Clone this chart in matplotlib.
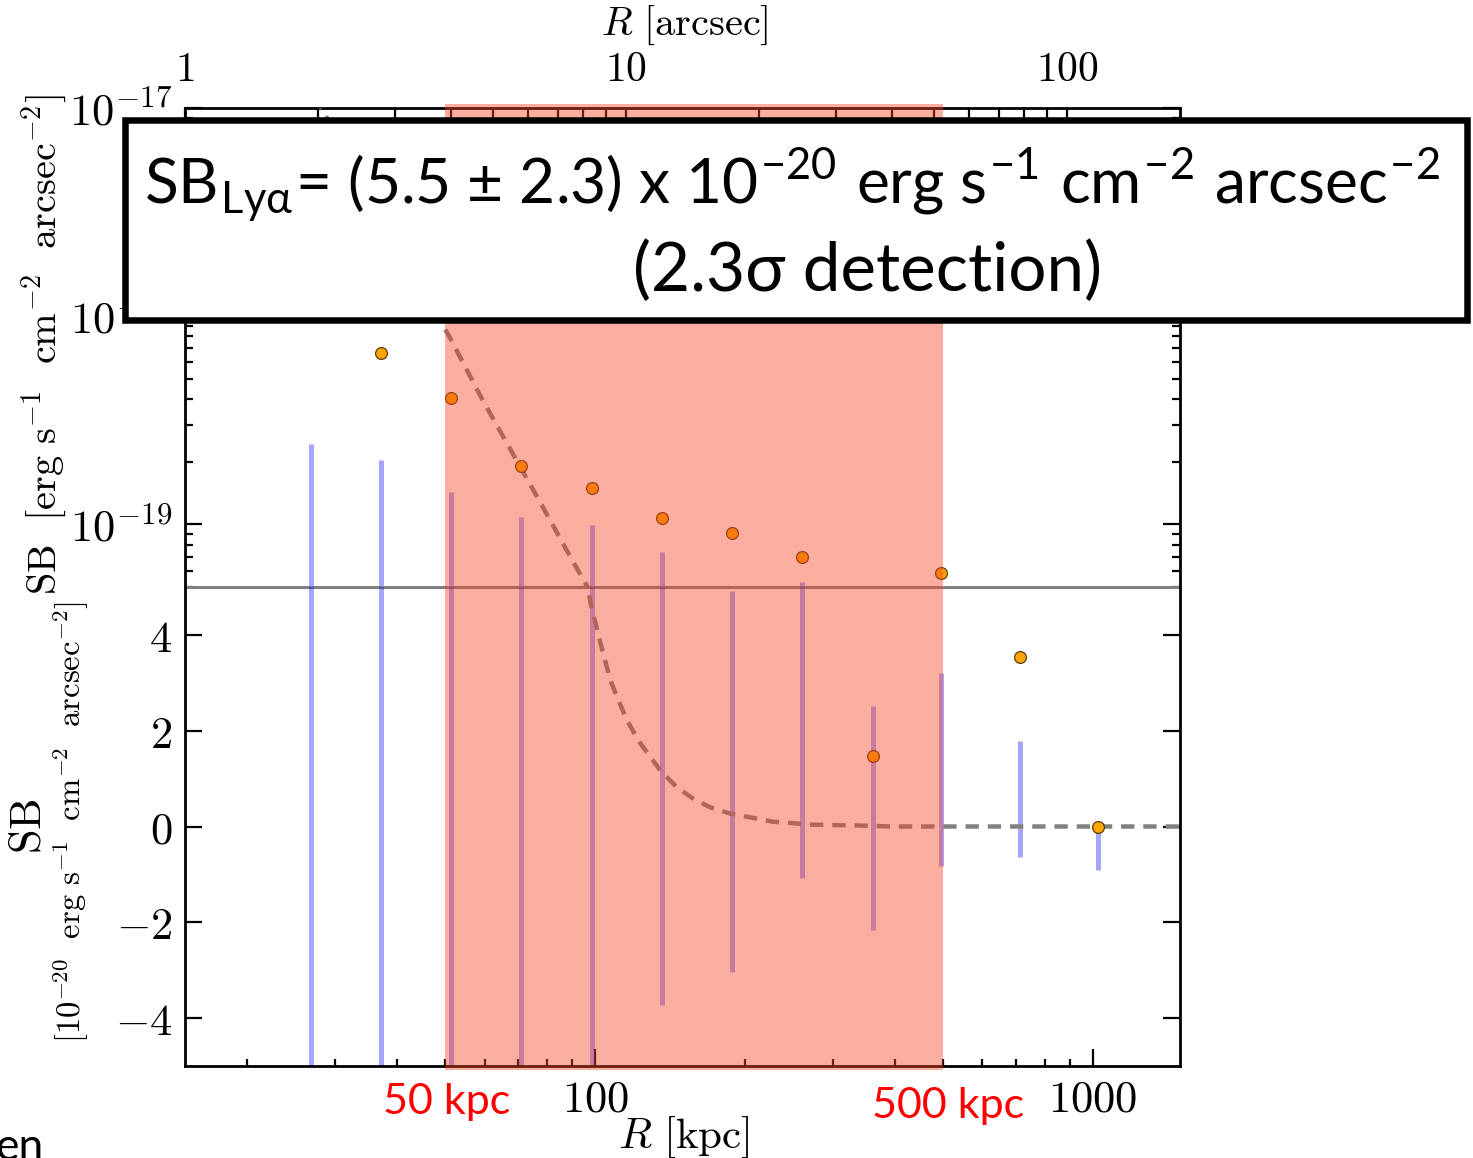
import numpy as np
import matplotlib
matplotlib.use('Agg')
import matplotlib.pyplot as plt
from matplotlib.patches import Rectangle
from matplotlib.ticker import FixedLocator, FuncFormatter, NullFormatter, LogLocator
from matplotlib.transforms import blended_transform_factory

plt.rcParams['mathtext.fontset'] = 'cm'
plt.rcParams['font.family'] = 'DejaVu Sans'

# ── data: radius [kpc], SB in units of 1e-20 erg/s/cm2/arcsec2 ──
pt_r = [37.2, 51.4, 71.0, 98.6, 136.3, 188.3, 260.4, 361.4, 495.5, 713.0, 1023.0]
pt_sb = [66.4, 40.4, 19.0, 14.9, 10.7, 9.06, 6.93, 1.48, 5.81, 3.54, 0.0]

bar_r = [26.9, 37.2, 51.4, 71.0, 98.6, 136.3, 188.3, 260.4, 361.4, 495.5, 713.0, 1023.0]
bar_lo = [-8.0, -8.0, -8.0, -8.0, -8.0, -3.73, -3.04, -1.08, -2.17, -0.83, -0.63, -0.90]
bar_hi = [24.3, 20.3, 14.3, 10.9, 9.9, 7.4, 4.92, 5.26, 2.52, 3.21, 1.79, 0.0]

model_r = [26.0, 28.2, 51.4, 59.0, 67.7, 77.8, 89.3, 96.7, 98.0, 102.6, 107.4, 115.2,
           122.2, 135.2, 146.2, 157.5, 170.3, 186.7, 204.8, 227.6, 269.9, 340.0,
           395.0, 600.0, 1000.0, 1500.0]
model_sb = [1400.0, 1000.0, 76.7, 40.8, 22.7, 12.6, 6.93, 4.98, 4.65, 3.81, 3.04, 2.27,
            1.79, 1.17, 0.81, 0.58, 0.40, 0.27, 0.19, 0.10, 0.04, 0.02,
            0.0, 0.0, 0.0, 0.0]

arcsec_ticks = [1, 10, 100]
kpc_ticks = [100, 1000]
lin_ticks = [-4, -2, 0, 2, 4]
log_ticks = [1e-19, 1e-18, 1e-17]

split = 5.0          # boundary between the two panels (1e-20 units)
shade = (50, 500)    # kpc

fig = plt.figure(figsize=(14.73, 11.58), dpi=100)
ax_top = fig.add_axes([185/1473, 1-587/1158, 995/1473, 479/1158])
ax_bot = fig.add_axes([185/1473, 1-1066/1158, 995/1473, 479/1158])
tw = ax_top.twiny()
tw.set_zorder(ax_top.get_zorder() - 1)
ax_top.patch.set_visible(False)
ax_bot.patch.set_visible(False)

xlim = (15.0, 1496.0)
shade_col = (0.953, 0.27, 0.133)
bar_col = (0.0, 0.0, 1.0)

for ax in (ax_top, ax_bot):
    ax.set_xscale('log')
    ax.set_xlim(*xlim)

ax_top.set_yscale('log')
ax_top.set_ylim(split * 1e-20, 1e-17)
ax_bot.set_ylim(-split, split)

r = np.array(bar_r)
lo = np.array(bar_lo)
hi = np.array(bar_hi)
ax_bot.vlines(r, lo, hi, colors=[bar_col], alpha=0.35, lw=3.6, zorder=2)
ax_top.vlines(r, np.maximum(lo, 1.0) * 1e-20, np.maximum(hi, 1.0) * 1e-20,
              colors=[bar_col], alpha=0.35, lw=3.6, zorder=2)

mr = np.array(model_r)
msb = np.array(model_sb)
pos = msb > 0
ax_bot.plot(mr, msb, color='gray', lw=3.2, dashes=(3, 2), zorder=3)
ax_top.plot(mr[pos], msb[pos] * 1e-20, color='gray', lw=3.2, dashes=(3, 2), zorder=3)

pr = np.array(pt_r)
psb = np.array(pt_sb)
ax_bot.plot(pr, psb, 'o', ms=8.5, mfc='orange', mec='#5a3a10', mew=0.9, zorder=4)
ax_top.plot(pr[psb > 0], psb[psb > 0] * 1e-20, 'o', ms=8.5, mfc='orange',
            mec='#5a3a10', mew=0.9, zorder=4)

# shaded 50-500 kpc band, over everything in both panels
for ax, y0, h in ((ax_top, 0.0, 1.008), (ax_bot, -0.008, 1.008)):
    tr = blended_transform_factory(ax.transData, ax.transAxes)
    ax.add_patch(Rectangle((shade[0], y0), shade[1] - shade[0], h, transform=tr,
                           facecolor=shade_col, alpha=0.43, lw=0, zorder=10, clip_on=False))
    ax.set_xlim(*xlim)

# spines
for ax in (ax_top, ax_bot, tw):
    for s in ax.spines.values():
        s.set_linewidth(2.0)
ax_top.spines['bottom'].set_color('gray')
ax_top.spines['bottom'].set_linewidth(2.2)
ax_bot.spines['top'].set_visible(False)
for s in ('bottom', 'left', 'right', 'top'):
    tw.spines[s].set_visible(False)

# ticks
tick_kw = dict(direction='in', width=1.6, labelsize=32)
ax_top.tick_params(axis='x', which='both', bottom=False, top=False, labelbottom=False)
ax_top.yaxis.set_major_locator(FixedLocator(log_ticks))
ax_top.yaxis.set_major_formatter(FuncFormatter(lambda v, p: r'$10^{%d}$' % round(np.log10(v))))
ax_top.yaxis.set_minor_locator(LogLocator(base=10, subs=np.arange(2, 10)))
ax_top.yaxis.set_minor_formatter(NullFormatter())
ax_top.tick_params(axis='y', which='both', left=True, right=True, **tick_kw)
ax_top.tick_params(axis='y', which='major', length=12, pad=9)
ax_top.tick_params(axis='y', which='minor', length=6)

ax_bot.yaxis.set_major_locator(FixedLocator(lin_ticks))
ax_bot.yaxis.set_major_formatter(FuncFormatter(lambda v, p: r'$%d$' % v))
ax_bot.tick_params(axis='y', which='both', left=True, right=True, length=12, pad=9, **tick_kw)
ax_bot.xaxis.set_major_locator(FixedLocator(kpc_ticks))
ax_bot.xaxis.set_major_formatter(FuncFormatter(lambda v, p: r'$%d$' % v))
ax_bot.xaxis.set_minor_locator(LogLocator(base=10, subs=np.arange(2, 10)))
ax_bot.xaxis.set_minor_formatter(NullFormatter())
ax_bot.tick_params(axis='x', which='both', bottom=True, top=False, **tick_kw)
ax_bot.tick_params(axis='x', which='major', length=12, pad=8)
ax_bot.tick_params(axis='x', which='minor', length=5)

tw.set_xscale('log')
tw.set_xlim(1, 180.4)
tw.xaxis.set_major_locator(FixedLocator(arcsec_ticks))
tw.xaxis.set_major_formatter(FuncFormatter(lambda v, p: r'$%d$' % v))
tw.xaxis.set_minor_locator(LogLocator(base=10, subs=np.arange(2, 10)))
tw.xaxis.set_minor_formatter(NullFormatter())
tw.tick_params(axis='x', which='both', top=True, bottom=False, direction='in', width=1.6,
               labelsize=30)
tw.tick_params(axis='x', which='major', length=10, pad=13)
tw.tick_params(axis='x', which='minor', length=8)

# axis labels
fig.text(685/1473, 1-25/1158, r'$R\ \mathrm{[arcsec]}$', fontsize=29, ha='center', va='center')
fig.text(684/1473, 1-1137/1158, r'$R\ \mathrm{[kpc]}$', fontsize=31, ha='center', va='center')
fig.text(45/1473, 1-345/1158, r'$\mathrm{SB\ \ [erg\ s^{-1}\ \ cm^{-2}\ \ arcsec^{-2}]}$',
         fontsize=29, rotation=90, ha='center', va='center')
fig.text(28/1473, 1-826/1158, r'$\mathrm{SB}$', fontsize=32, rotation=90, ha='center', va='center')
fig.text(71/1473, 1-822/1158, r'$\mathrm{[10^{-20}\ \ erg\ s^{-1}\ \ cm^{-2}\ \ arcsec^{-2}]}$',
         fontsize=23.5, rotation=90, ha='center', va='center')

# red band labels
fig.text(447/1473, 1-1114/1158, '50 kpc', color='red', fontsize=31, family='Lato',
         ha='center', va='baseline')
fig.text(948/1473, 1-1118/1158, '500 kpc', color='red', fontsize=31, family='Lato',
         ha='center', va='baseline')

# annotation box
fig.patches.append(Rectangle((125/1473, 1-320/1158), 1342/1473, 200/1158,
                             transform=fig.transFigure, facecolor='white',
                             edgecolor='black', lw=4.7, zorder=20))
fig.text(792/1473, 1-203/1158,
         r'SB$_{\mathregular{Lyα}}$= (5.5 ± 2.3) x 10$^{\mathregular{-20}}$ erg s$^{\mathregular{-1}}$'
         r' cm$^{\mathregular{-2}}$ arcsec$^{\mathregular{-2}}$',
         fontsize=44.8, family='Lato', ha='center', va='baseline', zorder=21)
fig.text(868/1473, 1-291/1158, '(2.3σ detection)', fontsize=48.5, family='Lato',
         ha='center', va='baseline', zorder=21)

fig.text(-0.003, 1-1160/1158, 'en', fontsize=32, family='Lato', ha='left', va='baseline')

fig.savefig('out.png', dpi=100, facecolor='white')
